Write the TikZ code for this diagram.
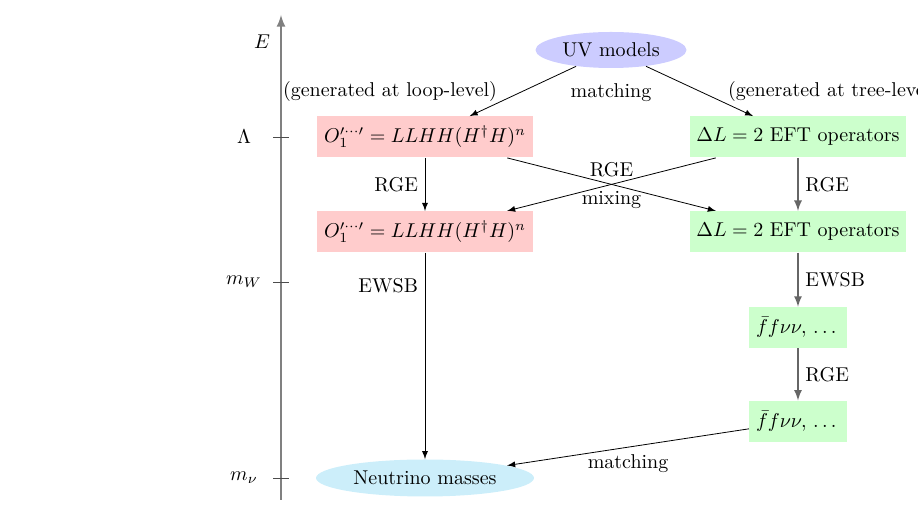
\documentclass[tikz,border=0pt]{standalone}
\usepackage{amsmath}
\usepackage{xcolor}
\usepackage{tikz}
\usetikzlibrary{calc}
\usetikzlibrary{positioning}
\usetikzlibrary{arrows}
\usetikzlibrary{shapes.geometric}

\definecolor{nucol}{RGB}{204,238,250}

\begin{document}
\begin{tikzpicture}[
    x = .5pt,
    y = .5pt,
    >=latex,
    uvf/.style = {
      ellipse,
      fill=blue!20,
      inner sep=0pt,
      minimum width=75.5pt,
      minimum height=18pt
    },
    nuf/.style = {
      ellipse,
      fill=nucol,
      inner sep=0pt,
      minimum width=109pt,
      minimum height=18.5pt
    },
    opf/.style = {
      rectangle,
      fill=red!20,
      minimum height=20.5pt
    },
    eftf/.style = {
      rectangle,
      fill=green!20,
      minimum height=20.5pt
    },
    axisf/.style = {
      gray,
      line width=1pt
    },
    tickf/.style = {
      black!70
    },
    flowf/.style = {
      black!60,
      thick
    }
  ]
    \useasboundingbox (0,0) rectangle (918,-517);

    % energy axis
    \coordinate (axbot) at (281,-500);
    \coordinate (axtop) at (281,-15);
    \draw[axisf,->] (axbot) -- (axtop);
    \node (E) at (262,-42) {$E$};
    \foreach \h/\lab [count=\i] in {137/\Lambda, 282/m_W, 478/m_\nu} {
      \draw[tickf] (273,-\h) -- (289,-\h);
      \node (t\i) at (244,-\h) {$\lab$};
    }

    \node[uvf] (uv) at (611,-50) {UV models};
    \node[opf] (p1) at (425,-137) {$O_1^{\prime\cdots\prime}=LLHH(H^\dagger H)^n$};
    \node[opf] (p2) [below=26.5pt of p1] {$O_1^{\prime\cdots\prime}=LLHH(H^\dagger H)^n$};
    \node[eftf] (g1) at (798,-137) {$\Delta L=2$ EFT operators};
    \node[eftf] (g2) [below=26.5pt of g1] {$\Delta L=2$ EFT operators};
    \node[eftf] (g3) [below=27pt of g2] {$\bar f f\nu\nu,\,\dots$};
    \node[eftf] (g4) [below=26pt of g3] {$\bar f f\nu\nu,\,\dots$};
    \node[nuf] (nu) at (425,-478) {Neutrino masses};

    \node (loop) at (390,-92) {(generated at loop-level)};
    \node (match) [below=4pt of uv] {matching};
    \node (tree) [anchor=west] at (721,-92) {(generated at tree-level)};

    \draw[->] (uv) -- (p1);
    \draw[->] (uv) -- (g1);
    \draw[->] (p1) -- node[left] (rgea) {RGE} (p2);
    \draw[flowf,->] (g1) -- node[right,black] (rgeb) {RGE} (g2);
    \draw[->] (p1) -- node[above] (rgec) {RGE} (g2);
    \draw[->] (g1) -- node[below] (mix) {mixing} (p2);
    \draw[->] (p2) -- node[left,pos=.16] (ewsba) {EWSB} (nu);
    \draw[flowf,->] (g2) -- node[right,black] (ewsbb) {EWSB} (g3);
    \draw[flowf,->] (g3) -- node[right,black] (rged) {RGE} (g4);
    \draw[->] (g4) -- node[below] (matchb) {matching} (nu);

  \end{tikzpicture}
\end{document}
